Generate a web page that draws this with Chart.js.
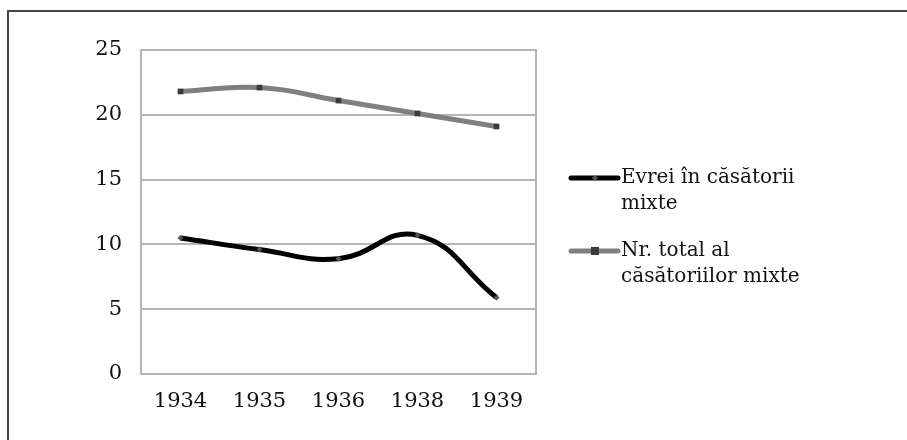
<!DOCTYPE html>
<html>
<head>
<meta charset="utf-8">
<script src="https://cdn.jsdelivr.net/npm/chart.js@4"></script>
<style>
  html, body { margin: 0; padding: 0; background: #fff; }
  #wrap { position: relative; width: 907px; height: 440px; }
  #frame { position: absolute; left: 7px; top: 10px; right: 0; bottom: 0;
           border-top: 2px solid #444; border-left: 2px solid #444; }
  canvas { position: absolute; left: 0; top: 0; }
</style>
</head>
<body>
<div id="wrap">
  <div id="frame"></div>
  <canvas id="myChart" width="907" height="440"></canvas>
</div>
<script>
// years on the x axis
var years = ['1934', '1935', '1936', '1938', '1939'];
// Evrei în căsătorii mixte
var evrei = [10.5, 9.6, 8.9, 10.7, 5.9];
// Nr. total al căsătoriilor mixte
var total = [21.8, 22.1, 21.1, 20.1, 19.1];
var legendEvrei = ['Evrei în căsătorii', 'mixte'];
var legendTotal = ['Nr. total al', 'căsătoriilor mixte'];

var fontFam = '"DejaVu Serif", serif';

// draws the box round the plot and the wrapped legend on the right
var extras = {
    id: 'extras',
    beforeDatasetsDraw: function (chart) {
        var a = chart.chartArea;
        var c = chart.ctx;
        c.save();
        c.strokeStyle = '#b5b5b5';
        c.lineWidth = 2;
        c.strokeRect(a.left, a.top, a.right - a.left, a.bottom - a.top);
        c.restore();
    },
    afterDraw: function (chart) {
        var c = chart.ctx;
        var items = [
            { ds: chart.data.datasets[0], lines: legendEvrei, y: 178 },
            { ds: chart.data.datasets[1], lines: legendTotal, y: 251 }
        ];
        c.save();
        items.forEach(function (it) {
            c.strokeStyle = it.ds.borderColor;
            c.lineWidth = 5;
            c.lineCap = 'round';
            c.beginPath();
            c.moveTo(571, it.y);
            c.lineTo(618, it.y);
            c.stroke();
            c.fillStyle = it.ds.pointBackgroundColor;
            if (it.ds.pointStyle == 'rect') {
                c.fillRect(591, it.y - 4, 8, 8);
            } else {
                c.beginPath();
                c.moveTo(595, it.y - 3);
                c.lineTo(598, it.y);
                c.lineTo(595, it.y + 3);
                c.lineTo(592, it.y);
                c.closePath();
                c.fill();
            }
            c.fillStyle = '#111';
            c.font = '20px ' + fontFam;
            c.textBaseline = 'middle';
            it.lines.forEach(function (t, i) {
                c.fillText(t, 621, it.y + i * 26);
            });
        });
        c.restore();
    }
};

var ctx = document.getElementById('myChart').getContext('2d');
var myChart = new Chart(ctx, {
    type: 'line',
    data: {
        labels: years,
        datasets: [
            {
                label: 'Evrei în căsătorii mixte',
                data: evrei,
                borderColor: '#000000',
                borderWidth: 5,
                tension: 0.45,
                pointStyle: 'rectRot',
                pointRadius: 3,
                pointBorderWidth: 0,
                pointBackgroundColor: '#555555'
            },
            {
                label: 'Nr. total al căsătoriilor mixte',
                data: total,
                borderColor: '#7f7f7f',
                borderWidth: 5,
                tension: 0.45,
                pointStyle: 'rect',
                pointRadius: 4,
                pointBorderWidth: 0,
                pointBackgroundColor: '#3a3a3a'
            }
        ]
    },
    options: {
        responsive: false,
        animation: false,
        layout: {
            padding: { left: 0, top: 50, right: 371, bottom: 0 }
        },
        plugins: {
            legend: { display: false },
            tooltip: { enabled: false }
        },
        scales: {
            x: {
                offset: true,
                grid: { display: false },
                border: { display: false },
                ticks: {
                    color: '#111',
                    padding: 7,
                    maxRotation: 0,
                    font: { family: fontFam, size: 21 }
                },
                afterFit: function (s) { s.height = 66; }
            },
            y: {
                min: 0,
                max: 25,
                grid: { color: '#b5b5b5', lineWidth: 2, drawTicks: false },
                border: { display: false },
                ticks: {
                    stepSize: 5,
                    color: '#111',
                    padding: 19,
                    font: { family: fontFam, size: 21 }
                },
                afterFit: function (s) { s.width = 141; }
            }
        }
    },
    plugins: [extras]
});
</script>
</body>
</html>
